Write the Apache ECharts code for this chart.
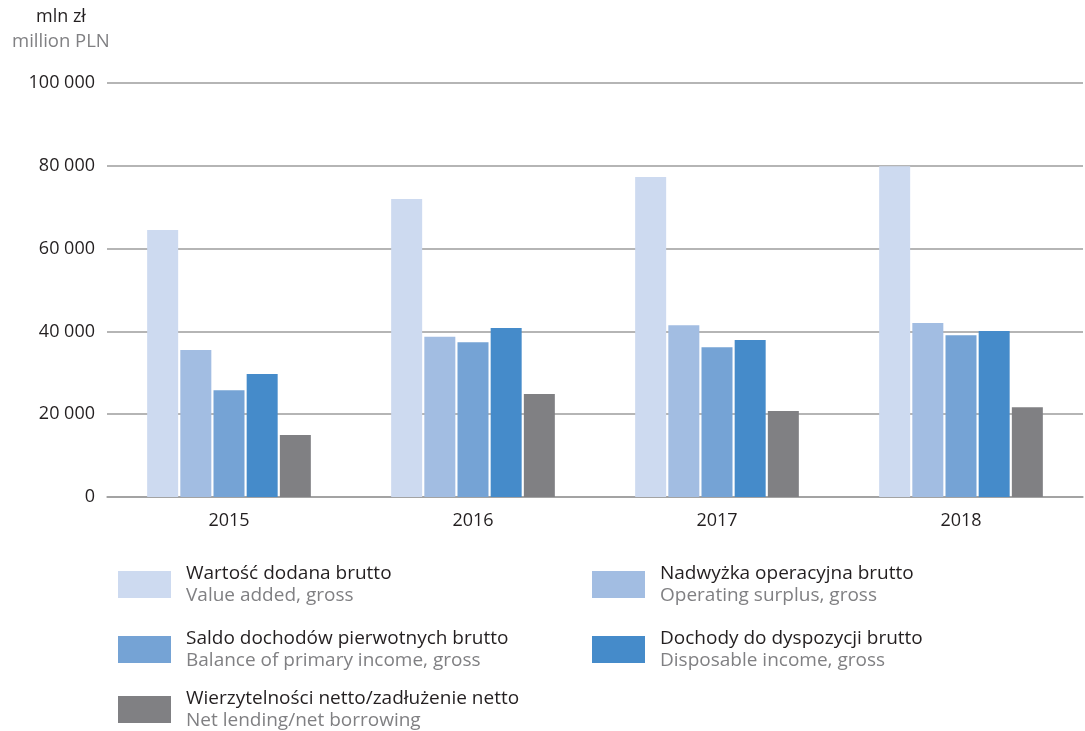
<!DOCTYPE html>
<html><head><meta charset="utf-8">
<script src="https://cdn.jsdelivr.net/npm/echarts@6/dist/echarts.min.js"></script>
<style>html,body{margin:0;padding:0;background:#fff}#c{width:1085px;height:731px}</style>
</head><body><div id="c"></div>
<script>
const categories = ['2015', '2016', '2017', '2018'];
const namesPL = ['Wartość dodana brutto', 'Nadwyżka operacyjna brutto', 'Saldo dochodów pierwotnych brutto', 'Dochody do dyspozycji brutto', 'Wierzytelności netto/zadłużenie netto'];
const namesEN = ['Value added, gross', 'Operating surplus, gross', 'Balance of primary income, gross', 'Disposable income, gross', 'Net lending/net borrowing'];
const valueAdded = [64500, 72000, 77300, 79900];
const operatingSurplus = [35500, 38700, 41500, 42000];
const primaryIncome = [25800, 37400, 36200, 39100];
const disposableIncome = [29700, 40800, 37900, 40100];
const netLending = [15000, 24900, 20800, 21700];
const yTicks = [0, 20000, 40000, 60000, 80000, 100000];
const colors = ['#cddaf0', '#a2bde2', '#75a3d5', '#458bca', '#808083'];
const seriesData = [valueAdded, operatingSurplus, primaryIncome, disposableIncome, netLending];

const FONT = '"Open Sans", "Noto Sans", sans-serif';
const legendPos = [[118, 564], [592, 564], [118, 629], [592, 629], [118, 689]];

const chart = echarts.init(document.getElementById('c'), null, {renderer: 'canvas'});
chart.setOption({
  animation: false,
  textStyle: {fontFamily: FONT},
  grid: {left: 107, right: 2, top: 83, bottom: 234, containLabel: false},
  graphic: [
    {type: 'text', left: 36, top: 8, style: {text: 'mln zł', font: '18px ' + FONT, fill: '#231f20'}},
    {type: 'text', left: 12, top: 32, style: {text: 'million PLN', font: '18.5px ' + FONT, fill: '#808083'}}
  ],
  legend: namesPL.map((n, i) => ({
    data: [n], left: legendPos[i][0], top: legendPos[i][1], padding: 0,
    itemWidth: 53, itemHeight: 27, selectedMode: false, icon: 'rect',
    formatter: (name) => '{a|' + name + '}\n{b|' + namesEN[namesPL.indexOf(name)] + '}',
    textStyle: {
      padding: [0, 0, 0, 10],
      rich: {
        a: {fontSize: 19, color: '#231f20', lineHeight: 22, fontFamily: FONT},
        b: {fontSize: 19, color: '#808083', lineHeight: 22, fontFamily: FONT}
      }
    }
  })),
  xAxis: {
    type: 'category', data: categories,
    axisLine: {lineStyle: {color: '#9d9d9d', width: 1.5}},
    axisTick: {show: false},
    axisLabel: {fontSize: 18, color: '#231f20', margin: 15, fontFamily: FONT}
  },
  yAxis: {
    type: 'value', min: 0, max: 100000, interval: 20000,
    axisLine: {show: false}, axisTick: {show: false},
    splitLine: {lineStyle: {color: '#9d9d9d', width: 1.5}},
    axisLabel: {fontSize: 18, color: '#231f20', margin: 12, fontFamily: FONT,
      formatter: v => String(v).replace(/\B(?=(\d{3})+(?!\d))/g, ' ')}
  },
  series: seriesData.map((d, i) => ({
    type: 'bar', name: namesPL[i], data: d,
    barWidth: 31, barGap: '7%', barCategoryGap: '33%',
    itemStyle: {color: colors[i]}
  }))
});
</script></body></html>
